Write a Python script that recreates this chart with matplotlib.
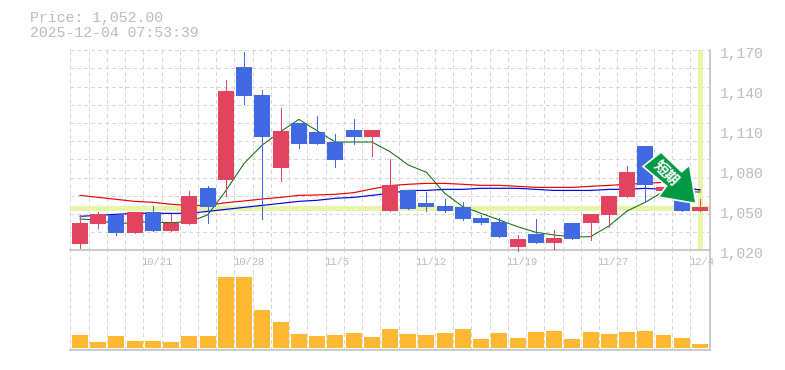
import numpy as np
import matplotlib
matplotlib.use('Agg')
import matplotlib.pyplot as plt
from matplotlib.patches import Polygon

# candles
opens = [1024.7, 1039.7, 1046.5, 1033, 1048.7, 1034.5, 1039.7, 1066.7, 1072.7, 1157.5, 1136.5, 1081.7,
         1115.5, 1108.7, 1101.2, 1110.2, 1105, 1049.5, 1065.2, 1055.5, 1053.2, 1052.5, 1044.2, 1041.2,
         1022.5, 1032.2, 1025.5, 1040.5, 1040.5, 1046.5, 1060, 1098.2, 1064.7, 1060, 1049.5]
closes = [1040.5, 1047.2, 1033, 1048.7, 1034.5, 1040.5, 1060.7, 1052.5, 1139.5, 1135.7, 1105, 1109.5,
          1099.7, 1099.7, 1087.7, 1105, 1110.2, 1068.7, 1051, 1052.5, 1049.5, 1043.5, 1040.5, 1030,
          1028.5, 1025.5, 1029.2, 1028.5, 1047.2, 1060.7, 1078.7, 1069, 1067.5, 1049.5, 1052.5]
highs = [1046.5, 1048.7, 1046.5, 1048.7, 1053.2, 1047.2, 1064.5, 1068.2, 1147.7, 1168.7, 1140.2, 1126.7,
         1115.5, 1120.7, 1107.2, 1118.5, 1110.2, 1088.5, 1065.2, 1063.7, 1058.5, 1056.2, 1046.5, 1044.2,
         1031.5, 1043.5, 1035.2, 1040.5, 1047.2, 1060.7, 1083.2, 1098.2, 1067.5, 1060, 1058.5]
lows = [1021.7, 1036.7, 1031.5, 1033, 1034.5, 1034.5, 1039.7, 1040.5, 1060.7, 1129.7, 1043.5, 1072,
        1096.7, 1099.7, 1082.5, 1099.7, 1090.7, 1049.5, 1051, 1049.5, 1048.7, 1042.7, 1039.7, 1030,
        1019.5, 1025.5, 1021, 1028.5, 1027.7, 1037.5, 1060, 1056.2, 1064.7, 1049.5, 1049.5]

# moving averages
ma_green = [1043.5, 1042.7, 1039.5, 1041.2, 1041.2, 1040.7, 1041.5, 1046.5, 1064.7, 1085.2, 1099, 1109,
            1118.2, 1109.7, 1101.2, 1101.2, 1101.2, 1094, 1084, 1078.5, 1062.7, 1052.7, 1047.7, 1042.7,
            1037.7, 1033.5, 1031.5, 1030, 1030.2, 1038.2, 1049.5, 1056, 1064, 1064, 1063.7]
ma_red = [1061.2, 1059.7, 1058.2, 1056.7, 1056, 1054.5, 1053.7, 1053.7, 1055.7, 1057, 1058.5, 1059.7,
          1061.2, 1061.5, 1062, 1063.2, 1066, 1068.5, 1069.5, 1070.2, 1070.2, 1069.5, 1068.7, 1068.7,
          1068, 1067.2, 1067.2, 1067.2, 1068, 1068.7, 1069.5, 1070.2, 1071, 1067.7, 1065.2]
ma_blue = [1045.5, 1046.2, 1047, 1047.7, 1047.7, 1047.7, 1047.7, 1049.2, 1050.7, 1052.2, 1053.7, 1055.2,
           1056.7, 1057.5, 1059, 1059.7, 1061.2, 1062.7, 1064.9, 1064.9, 1065.7, 1065.7, 1066.5, 1066.5,
           1066.5, 1065.7, 1064.9, 1064.9, 1064.9, 1065.7, 1065.7, 1066.5, 1065.7, 1065.7, 1065.5]

volume = [13, 6, 12, 7, 7, 6, 12, 12, 71, 71, 38, 26, 14, 12, 13, 15, 11, 19,
          14, 13, 15, 19, 9, 15, 10, 16, 17, 9, 16, 14, 16, 17, 13, 10, 4]

price = 1052
price_labels = [1020, 1050, 1080, 1110, 1140, 1170]
date_labels = {4: '10/21', 9: '10/28', 14: '11/5', 19: '11/12', 24: '11/19', 29: '11/27', 34: '12/4'}

RED = '#e2435f'
BLUE = '#4169e1'
GRID = '#d6d6d6'
FRAME = '#bbbbbb'
TEXT = '#bbbbbb'
YELLOW = '#e6f5a8'

W, H = 785, 370
fig = plt.figure(figsize=(W / 100, H / 100), dpi=100)
ax = fig.add_axes([70 / W, (H - 250.3) / H, 640 / W, 200 / H])
ax2 = fig.add_axes([70 / W, (H - 350.3) / H, 640 / W, 100 / H])

x = np.arange(len(opens))
grid_x = x - 0.53
grid_y = 1020 + np.arange(1, 12) * 150 / 11

for a in (ax, ax2):
    a.set_xlim(-0.548, 34.55)
    a.set_xticks(grid_x)
    a.tick_params(length=0, labelbottom=False, labelleft=False)
    a.grid(axis='x', color=GRID, lw=0.7, ls=(0, (3.1, 3.1)), antialiased=False)
    a.set_axisbelow(True)
    a.spines[['top', 'left']].set_visible(False)
    a.spines[['right', 'bottom']].set_color(FRAME)
    a.spines[['right', 'bottom']].set_linewidth(1.1)
    a.set_facecolor('none')

ax.set_ylim(1020, 1170)
ax.set_yticks(grid_y)
ax.grid(axis='y', color=GRID, lw=0.7, ls=(0, (3.1, 3.1)), antialiased=False)

ax.axhline(price, color=YELLOW, lw=2.4, zorder=1, antialiased=False)
ax.axvline(x[-1], ymin=0.005, ymax=0.995, color=YELLOW, lw=2.4, zorder=1, antialiased=False)

ax.plot(x, ma_red, color='#ee0000', lw=0.85, zorder=2)
ax.plot(x, ma_blue, color='#0000ee', lw=0.85, zorder=2)
ax.plot(x, ma_green, color='#006600', lw=0.7, zorder=2)

colors = [RED if c > o else BLUE for o, c in zip(opens, closes)]
ax.vlines(x, lows, highs, colors=colors, lw=0.7, zorder=3, antialiased=False, clip_on=False)
ax.bar(x, np.array(closes) - np.array(opens), bottom=opens, width=0.877, color=colors,
       zorder=3, antialiased=False)

ax2.set_ylim(-2.2, 97.8)
ax2.set_yticks([])
ax2.bar(x, volume, width=0.877, color='#ffb833', zorder=3, antialiased=False)

for p in price_labels:
    ax.annotate(f'{p:,}', (1, p), xycoords=('axes fraction', 'data'), xytext=(9.5, -4),
                textcoords='offset pixels', family='Liberation Mono', fontsize=10.5,
                color=TEXT, ha='left', va='center', annotation_clip=False)

for i, label in date_labels.items():
    ax.annotate(label, (grid_x[i], 0), xycoords=('data', 'axes fraction'), xytext=(-1.5, -12),
                textcoords='offset pixels', family='Liberation Mono', fontsize=7.6,
                color=TEXT, ha='left', va='center', annotation_clip=False)

fig.text(30 / W, 1 - 18 / H, 'Price: 1,052.00', family='Liberation Mono', fontsize=10.7,
         color=TEXT, ha='left', va='center')
fig.text(30 / W, 1 - 33 / H, '2025-12-04 07:53:39', family='Liberation Mono', fontsize=10.7,
         color=TEXT, ha='left', va='center')

# signal arrow on top of the last candles
arrow_px = [(643, 166.5), (661, 152), (681.7, 171.7), (689.5, 165), (696, 203.5), (658.3, 197), (666.5, 186)]
arrow_fig = [(px / W, 1 - py / H) for px, py in arrow_px]
fig.add_artist(Polygon(arrow_fig, closed=True, transform=fig.transFigure, facecolor='#009944',
                       edgecolor='white', lw=1.2, zorder=10))
fig.text(667 / W, 1 - 173 / H, '短期', family=['Noto Sans CJK JP', 'DejaVu Sans'], fontsize=10.5,
         fontweight='bold', color='white', rotation=-45, rotation_mode='anchor',
         ha='center', va='center', zorder=11)

fig.savefig('out.png', dpi=100)
